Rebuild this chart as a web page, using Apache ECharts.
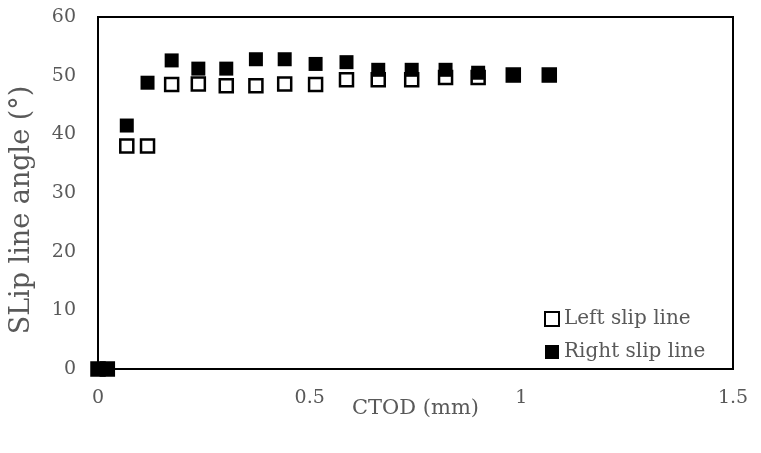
<!DOCTYPE html>
<html>
<head>
<meta charset="utf-8">
<script src="https://cdn.jsdelivr.net/npm/echarts@6/dist/echarts.min.js"></script>
<style>
  html, body { margin: 0; padding: 0; background: #fff; }
  #main { width: 761px; height: 453px; }
</style>
</head>
<body>
<div id="main"></div>
<script>
// CTOD (mm) values
const ctod = [0, 0.022, 0.068, 0.117, 0.174, 0.237, 0.303, 0.373, 0.441, 0.514, 0.587, 0.662, 0.741, 0.821, 0.898, 0.981, 1.066];
// slip line angles (deg)
const leftSlip = [0, 0, 38.0, 38.0, 48.5, 48.6, 48.3, 48.3, 48.6, 48.5, 49.3, 49.3, 49.3, 49.7, 49.7, 50.1, 50.1];
const rightSlip = [0, 0, 41.5, 48.8, 52.6, 51.2, 51.2, 52.8, 52.8, 52.0, 52.3, 51.0, 51.0, 51.0, 50.5, 50.1, 50.1];
const seriesNames = ["Left slip line", "Right slip line"];

const font = "DejaVu Serif";
const grey = "#595959";

const pairs = (ys) => ctod.map((x, i) => [x, ys[i]]);

const chart = echarts.init(document.getElementById("main"));

const option = {
  animation: false,
  backgroundColor: "#fff",
  grid: {
    left: 97, right: 28, top: 17, bottom: 84,
    show: true, borderColor: "#000", borderWidth: 2
  },
  legend: {
    orient: "vertical",
    left: 539, top: 304,
    itemWidth: 14, itemHeight: 14, itemGap: 13,
    textStyle: { fontFamily: font, fontSize: 20, color: grey },
    data: seriesNames
  },
  xAxis: {
    type: "value",
    min: 0, max: 1.5, interval: 0.5,
    name: "CTOD (mm)",
    nameLocation: "middle",
    nameGap: 29,
    nameMoveOverlap: false,
    nameTextStyle: { fontFamily: font, fontSize: 21, color: grey },
    axisLine: { lineStyle: { color: "#000", width: 2 } },
    axisTick: { show: false },
    splitLine: { show: false },
    axisLabel: { fontFamily: font, fontSize: 19, color: grey, margin: 20 }
  },
  yAxis: {
    type: "value",
    min: 0, max: 60, interval: 10,
    name: "SLip line angle (°)",
    nameLocation: "middle",
    nameGap: 63,
    nameMoveOverlap: false,
    // shift the title a bit downwards, as in the original
    nameTextStyle: { fontFamily: font, fontSize: 27, color: grey, padding: [0, 34, 0, 0] },
    axisLine: { show: true, lineStyle: { color: "#000", width: 2 } },
    axisTick: { show: false },
    splitLine: { show: false },
    axisLabel: { fontFamily: font, fontSize: 19, color: grey, margin: 22 }
  },
  series: [
    {
      name: seriesNames[0],
      type: "scatter",
      symbol: "rect",
      symbolSize: 13,
      itemStyle: { color: "#fff", borderColor: "#000", borderWidth: 2.5, opacity: 1 },
      data: pairs(leftSlip),
      z: 2
    },
    {
      name: seriesNames[1],
      type: "scatter",
      symbol: "rect",
      symbolSize: 14,
      itemStyle: { color: "#000", opacity: 1 },
      data: pairs(rightSlip),
      z: 3
    }
  ]
};

chart.setOption(option);
</script>
</body>
</html>
